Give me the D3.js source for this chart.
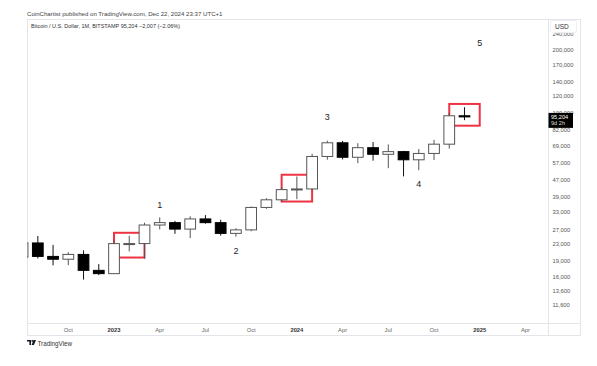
<!DOCTYPE html>
<html>
<head>
<meta charset="utf-8">
<script src="https://cdn.jsdelivr.net/npm/d3@7"></script>
<style>
  body { margin: 0; background: #fff; }
  text { font-family: "Liberation Sans", Arial, sans-serif; }
</style>
</head>
<body>
<svg width="597" height="366"></svg>
<script>
// monthly candles, BITSTAMP BTC/USD
var months = ["2022-07","2022-08","2022-09","2022-10","2022-11","2022-12",
              "2023-01","2023-02","2023-03","2023-04","2023-05","2023-06",
              "2023-07","2023-08","2023-09","2023-10","2023-11","2023-12",
              "2024-01","2024-02","2024-03","2024-04","2024-05","2024-06",
              "2024-07","2024-08","2024-09","2024-10","2024-11","2024-12"];
var opens  = [19900,23300,20050,19430,20500,17160, 16540,23130,23140,28470,29240,27200,
              30470,29230,25930,26960,34640,37720, 42270,42580,61200,71300,60650,67500,
              62700,64600,58970,63300,70200,96400];
var highs  = [24600,25200,22800,21000,21450,18400, 23950,25250,29200,31000,29800,31400,
              31800,30200,27480,35000,38400,43500, 48970,63000,73000,72800,71000,71900,
              70000,65100,66500,73600,99600,106000];
var lows   = [18800,19600,18150,18200,15480,16260, 16500,21200,19550,27100,25800,24600,
              28900,25300,25000,26550,34100,37000, 38000,41880,59000,59200,56800,58400,
              53700,49000,52500,58800,66800,91800];
var closes = [23300,20050,19430,20500,17160,16540, 23130,23140,28470,29240,27200,30470,
              29230,25930,26960,34640,37720,42270, 42580,61200,71300,60650,67500,62700,
              64600,58970,63300,70200,96400,95204];

var priceTicks = [240000,200000,170000,140000,120000,100000,82000,69000,57000,
                  47000,39000,33000,27000,23000,19000,16000,13600,11600];

var tickMonths = ["2022-10","2023-01","2023-04","2023-07","2023-10","2024-01",
                  "2024-04","2024-07","2024-10","2025-01","2025-04"];
var tickLabels = ["Oct","2023","Apr","Jul","Oct","2024","Apr","Jul","Oct","2025","Apr"];

// red rectangles
var boxFrom = ["2023-01","2023-12","2024-11"];
var boxTo   = ["2023-03","2024-02","2025-01"];
var boxLow  = [19800, 37000, 86300];
var boxHigh = [26100, 49900, 110000];

// wave counts
var waveText   = ["1","2","3","4","5"];
var waveMonths = ["2023-04","2023-09","2024-03","2024-09","2025-01"];
var wavePrices = [35700, 21400, 95000, 45000, 218000];

var lastPrice = 95204;

function monthIndex(s) {
  var p = s.split("-");
  return (+p[0]) * 12 + (+p[1] - 1);
}

var svg = d3.select("svg");

var plotLeft = 27, plotRight = 548, plotTop = 19, plotBottom = 323.5,
    frameRight = 580, frameBottom = 335;

var x = d3.scaleLinear()
    .domain([monthIndex("2022-07") + 0.29, monthIndex("2025-05") + 0.48])
    .range([plotLeft, plotRight]);

var y = d3.scaleLog()
    .domain([9480, 284000])
    .range([plotBottom, plotTop]);

var step = x(1) - x(0);
var bw = step * 0.77;

var candles = months.map(function(m, i) {
  return { m: m, o: opens[i], h: highs[i], l: lows[i], c: closes[i] };
});

// header
svg.append("text")
    .attr("x", 27).attr("y", 16)
    .attr("font-size", "6.1px")
    .attr("fill", "#444")
    .text("CoinChartist published on TradingView.com, Dec 22, 2024 23:37 UTC+1");

svg.append("defs").append("clipPath")
    .attr("id", "plot")
  .append("rect")
    .attr("x", plotLeft).attr("y", plotTop)
    .attr("width", plotRight - plotLeft).attr("height", plotBottom - plotTop);

// frame
svg.append("rect")
    .attr("x", plotLeft + 0.5).attr("y", plotTop + 0.5)
    .attr("width", frameRight - plotLeft).attr("height", frameBottom - plotTop)
    .attr("fill", "none")
    .attr("stroke", "#e3e5ea");
svg.append("line")
    .attr("x1", plotRight + 0.5).attr("x2", plotRight + 0.5)
    .attr("y1", plotTop).attr("y2", frameBottom)
    .attr("stroke", "#e3e5ea");
svg.append("line")
    .attr("x1", plotLeft).attr("x2", frameRight)
    .attr("y1", plotBottom).attr("y2", plotBottom)
    .attr("stroke", "#e3e5ea");

svg.append("text")
    .attr("x", 31).attr("y", 27.5)
    .attr("font-size", "5.5px")
    .attr("fill", "#333")
    .text("Bitcoin / U.S. Dollar, 1M, BITSTAMP  95,204  \u22122,007 (\u22122.06%)");

var plot = svg.append("g").attr("clip-path", "url(#plot)");

// boxes under candles
plot.selectAll(".box")
    .data(boxFrom)
    .enter().append("rect")
    .attr("class", "box")
    .attr("x", function(d) { return x(monthIndex(d)); })
    .attr("y", function(d, i) { return y(boxHigh[i]); })
    .attr("width", function(d, i) { return x(monthIndex(boxTo[i])) - x(monthIndex(d)); })
    .attr("height", function(d, i) { return y(boxLow[i]) - y(boxHigh[i]); })
    .attr("fill", "none")
    .attr("stroke", "#ef3344")
    .attr("stroke-width", 2);

var candle = plot.selectAll(".candle")
    .data(candles)
    .enter().append("g")
    .attr("class", "candle")
    .attr("transform", function(d) { return "translate(" + x(monthIndex(d.m)) + ",0)"; });

candle.append("line")
    .attr("y1", function(d) { return y(d.h); })
    .attr("y2", function(d) { return y(d.l); })
    .attr("stroke", function(d) { return d.c >= d.o ? "#555" : "#111"; })
    .attr("stroke-width", 1);

candle.append("rect")
    .attr("x", -bw / 2 + 0.5)
    .attr("width", bw - 1)
    .attr("y", function(d) { return y(Math.max(d.o, d.c)); })
    .attr("height", function(d) { return Math.max(1, Math.abs(y(d.o) - y(d.c))); })
    .attr("fill", function(d) { return d.c >= d.o ? "#fff" : "#000"; })
    .attr("stroke", function(d) { return d.c >= d.o ? "#555" : "#000"; })
    .attr("stroke-width", 1);

// wave labels
svg.selectAll(".wave")
    .data(waveText)
    .enter().append("text")
    .attr("class", "wave")
    .attr("x", function(d, i) { return x(monthIndex(waveMonths[i])); })
    .attr("y", function(d, i) { return y(wavePrices[i]); })
    .attr("dy", "0.35em")
    .attr("text-anchor", "middle")
    .attr("font-size", "9px")
    .attr("fill", "#222")
    .text(function(d) { return d; });

// price axis
svg.selectAll(".ptick")
    .data(priceTicks)
    .enter().append("text")
    .attr("class", "ptick")
    .attr("x", 552.5)
    .attr("y", function(d) { return y(d); })
    .attr("dy", "0.35em")
    .attr("font-size", "5.8px")
    .attr("fill", "#555")
    .text(function(d) { return d3.format(",")(d); });

svg.append("rect")
    .attr("x", 550.5).attr("y", 20.5)
    .attr("width", 26).attr("height", 12)
    .attr("rx", 2)
    .attr("fill", "#fff")
    .attr("stroke", "#eceef2");
svg.append("text")
    .attr("x", 555).attr("y", 28.5)
    .attr("font-size", "6.5px")
    .attr("fill", "#333")
    .text("USD");

var py = y(lastPrice);
svg.append("rect")
    .attr("x", 548.5).attr("y", py - 4)
    .attr("width", 24.5).attr("height", 15)
    .attr("fill", "#000");
svg.append("text")
    .attr("x", 551).attr("y", py)
    .attr("dy", "0.35em")
    .attr("font-size", "5.6px")
    .attr("fill", "#fff")
    .text(d3.format(",")(lastPrice));
svg.append("text")
    .attr("x", 551).attr("y", py + 6.5)
    .attr("dy", "0.35em")
    .attr("font-size", "5.6px")
    .attr("fill", "#ddd")
    .text("9d 2h");

// time axis
svg.selectAll(".ttick")
    .data(tickMonths)
    .enter().append("text")
    .attr("class", "ttick")
    .attr("x", function(d) { return x(monthIndex(d)); })
    .attr("y", 329.5)
    .attr("dy", "0.35em")
    .attr("text-anchor", "middle")
    .attr("font-size", "5.8px")
    .attr("font-weight", function(d, i) { return /^\d/.test(tickLabels[i]) ? "bold" : "normal"; })
    .attr("fill", function(d, i) { return /^\d/.test(tickLabels[i]) ? "#333" : "#666"; })
    .text(function(d, i) { return tickLabels[i]; });

// TradingView mark
var logo = svg.append("g").attr("transform", "translate(27,340)").attr("fill", "#131722");
logo.append("path").attr("d", "M0 0H4V5H2.4V1.5H0Z");
logo.append("circle").attr("cx", 5.3).attr("cy", 0.9).attr("r", 0.9);
logo.append("path").attr("d", "M6.5 0H9L6.9 5H4.6Z");
svg.append("text")
    .attr("x", 37.5).attr("y", 345.5)
    .attr("font-size", "6.3px")
    .attr("fill", "#333")
    .text("TradingView");
</script>
</body>
</html>
